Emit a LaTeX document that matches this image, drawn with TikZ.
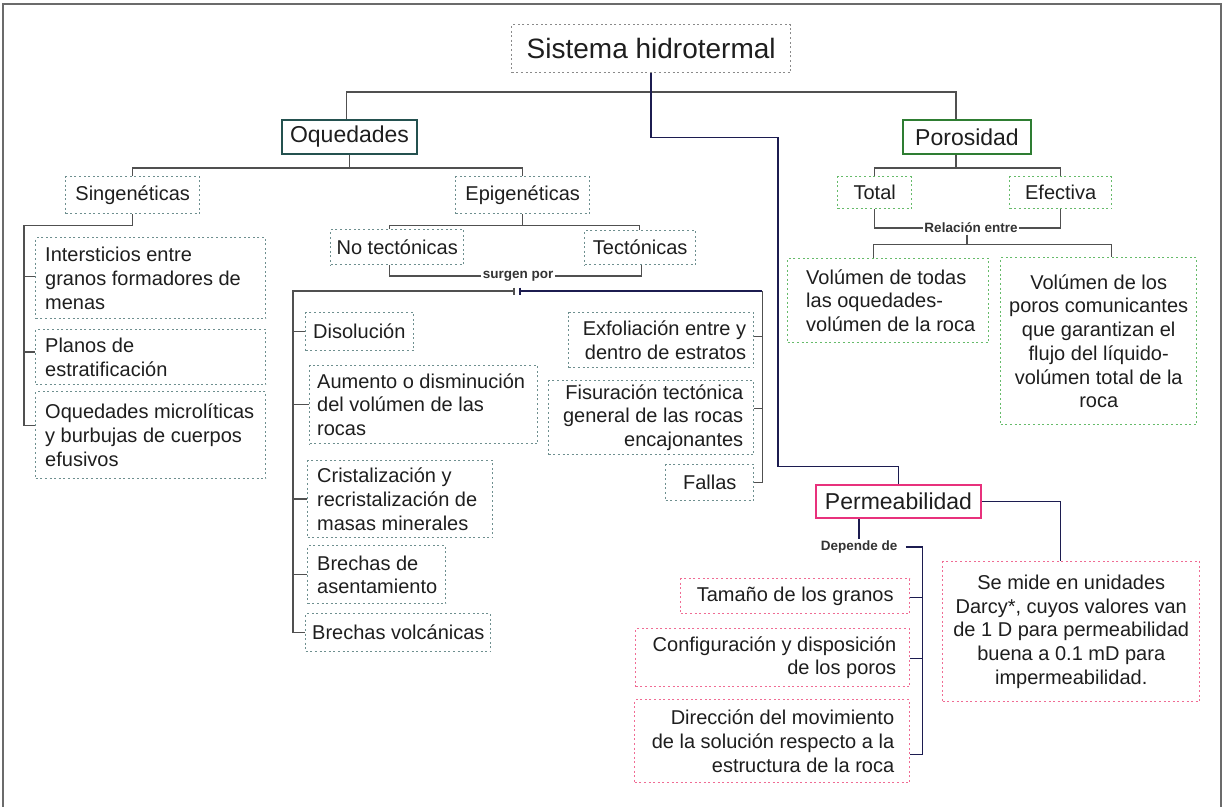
\documentclass[tikz,border=0pt]{standalone}
\usepackage{fontspec}
\setmainfont{Liberation Sans}
\definecolor{ctext}{HTML}{1E1E1E}
\definecolor{lgray}{HTML}{505050}
\definecolor{navy}{HTML}{1C1C50}
\definecolor{cteal}{HTML}{6E8F8F}
\definecolor{csis}{HTML}{8A8A8A}
\definecolor{coq}{HTML}{24514F}
\definecolor{cpor}{HTML}{2E7D32}
\definecolor{cgreen}{HTML}{66BB6A}
\definecolor{cperm}{HTML}{E8317C}
\definecolor{cpink}{HTML}{F06C94}
\definecolor{cframe}{HTML}{6B6B6B}
\definecolor{clbl}{HTML}{333333}
\newcommand\bx[9]{%
  \pgfmathsetmacro\bxw{#4-#2}\pgfmathsetmacro\bxh{#5-#3}%
  \node[#8,anchor=north west,inner sep=0pt,minimum width=\bxw pt,minimum height=\bxh pt] (#1) at (#2,#3) {};%
  \node[txt,#6] (#1t) at (#1.#7) {#9};}
\begin{document}
\begin{tikzpicture}[x=1pt,y=-1pt,
  conn/.style={draw=lgray,line width=1.5pt},
  nconn/.style={draw=navy,line width=1.5pt},
  dotbox/.style={draw=#1,line width=1.4pt,dash pattern=on 2pt off 2.6pt},
  tealbox/.style={dotbox=cteal},
  sisbox/.style={dotbox=csis},
  greenbox/.style={dotbox=cgreen},
  pinkbox/.style={dotbox=cpink},
  solidbox/.style={draw=#1,line width=2pt},
  txt/.style={inner sep=0pt,text=ctext,font=\fontsize{20}{23.7}\selectfont},
  big/.style={font=\fontsize{23}{26}\selectfont},
  tl/.style={anchor=west,align=left,xshift=#1},
  tr/.style={anchor=east,align=right,xshift=-#1},
  tc/.style={align=center},
  lbl/.style={inner sep=1.5pt,text=clbl,fill=white,font=\bfseries\fontsize{13.5}{15}\selectfont},
]
\useasboundingbox (0,0) rectangle (1225,806);
\clip (0,0) rectangle (1225,806);
\draw[cframe,line width=2pt] (3,4) rectangle (1221,815);

% ---- boxes ----
\bx{sis}{511}{24}{790}{72}{tc,font=\fontsize{28}{32}\selectfont}{center}{sisbox}{Sistema hidrotermal}
\bx{oq}{281}{119}{416}{153}{tc,big}{center}{solidbox=coq}{Oquedades}
\bx{por}{902}{119}{1030}{153}{tc,big}{center}{solidbox=cpor}{Porosidad}
\bx{sin}{65}{176}{199}{213}{tc}{center}{tealbox}{Singenéticas}
\bx{epi}{455}{176}{589}{213}{tc}{center}{tealbox}{Epigenéticas}
\bx{inter}{35}{237}{265}{318}{tl=10pt}{west}{tealbox}{Intersticios entre\\granos formadores de\\menas}
\bx{planos}{35}{329}{265}{384}{tl=10pt}{west}{tealbox}{Planos de\\estratificación}
\bx{oqmic}{35}{391}{265}{478}{tl=10pt}{west}{tealbox}{Oquedades microlíticas\\y burbujas de cuerpos\\efusivos}
\bx{notec}{330}{229}{463}{264}{tc}{center}{tealbox}{No tectónicas}
\bx{tec}{584}{230}{695}{264}{tc}{center}{tealbox}{Tectónicas}
\bx{disol}{305}{312}{413}{350}{tl=8pt}{west}{tealbox}{Disolución}
\bx{aum}{309}{365}{537}{443}{tl=8pt}{west}{tealbox}{Aumento o disminución\\del volúmen de las\\rocas}
\bx{crist}{307}{460}{492}{537}{tl=10pt}{west}{tealbox}{Cristalización y\\recristalización de\\masas minerales}
\bx{brase}{307}{545}{445}{603}{tl=10pt}{west}{tealbox}{Brechas de\\asentamiento}
\bx{brvol}{305}{613}{490}{651}{tl=7pt}{west}{tealbox}{Brechas volcánicas}
\bx{exf}{568}{312}{753}{367}{tr=8pt}{east}{tealbox}{Exfoliación entre y\\dentro de estratos}
\bx{fis}{548}{380}{753}{454}{tr=11pt}{east}{tealbox}{Fisuración tectónica\\general de las rocas\\encajonantes}
\bx{fall}{665}{464}{753}{500}{tc}{center}{tealbox}{Fallas}
\bx{total}{837}{176}{911}{208}{tc}{center}{greenbox}{Total}
\bx{efec}{1009}{176}{1111}{208}{tc}{center}{greenbox}{Efectiva}
\bx{vtod}{787}{258}{988}{342}{tl=19pt}{west}{greenbox}{Volúmen de todas\\las oquedades-\\volúmen de la roca}
\bx{vpor}{1000}{257}{1196}{424}{tc}{center}{greenbox}{Volúmen de los\\poros comunicantes\\que garantizan el\\flujo del líquido-\\volúmen total de la\\roca}
\bx{perm}{815}{484}{980}{517}{tc,big}{center}{solidbox=cperm}{Permeabilidad}
\bx{tam}{680}{578}{909}{613}{tc}{center}{pinkbox}{Tamaño de los granos}
\bx{conf}{635}{628}{909}{686}{tr=14pt}{east}{pinkbox}{Configuración y disposición\\de los poros}
\bx{dir}{634}{699}{909}{782}{tr=16pt}{east}{pinkbox}{Dirección del movimiento\\de la solución respecto a la\\estructura de la roca}
\bx{semide}{942}{561}{1199}{701}{tc}{center}{pinkbox}{Se mide en unidades\\Darcy*, cuyos valores van\\de 1 D para permeabilidad\\buena a 0.1 mD para\\impermeabilidad.}

% ---- labels ----
\node[lbl] (surg) at (518,276) {surgen por};
\node[lbl] (rel) at (971,228) {Relación entre};
\node[lbl] (dep) at (859,547) {Depende de};

% ---- top level ----
\draw[conn] ([xshift=-3pt]oq.north) -- ++(0,-27) -| ([xshift=-11pt]por.north);
\draw[nconn] (sis.south) -- ++(0,64) -- ++(127,0) -- ++(0,329) -| (perm.north);

% ---- Oquedades ----
\draw[conn] (oq.south) -- ++(0,13) coordinate (oqj);
\draw[conn] (sin.north) |- (oqj) -| (epi.north);
\draw[conn] (sin.south) -- ++(0,11) -| ([xshift=-11pt,yshift=9.5pt]oqmic.west) -- ([yshift=9.5pt]oqmic.west);
\draw[conn] ([yshift=1.5pt]inter.west) -- ++(-11,0);
\draw[conn] ([yshift=5pt]planos.west) -- ++(-11,0);

\draw[conn] (epi.south) -- ++(0,11) coordinate (epj);
\draw[conn] ([xshift=-7.5pt]notec.north) |- (epj) -| ([xshift=-0.5pt]tec.north);
\draw[conn] ([xshift=-7.5pt]notec.south) |- (surg.west);
\draw[conn] (surg.east) -| ([xshift=1.5pt]tec.south);

\coordinate (sj) at ([yshift=-15pt]surg.center);
\draw[conn] ([xshift=-4pt]sj) -- ([xshift=-12pt]disol.west |- sj) -- ([xshift=-12pt]brvol.west) -- (brvol.west);
\draw[conn] ([xshift=-4pt,yshift=3.5pt]sj) -- ([xshift=-4pt,yshift=-3.5pt]sj);
\draw[conn] (disol.west) -- ++(-12,0);
\draw[conn] (aum.west) -- ++(-16,0);
\draw[conn] (crist.west) -- ++(-14,0);
\draw[conn] (brase.west) -- ++(-14,0);
\draw[nconn] ([xshift=2pt]sj) -- ([xshift=8pt]fall.east |- sj);
\draw[nconn] ([xshift=2pt,yshift=3.5pt]sj) -- ([xshift=2pt,yshift=-3.5pt]sj);
\draw[conn] ([xshift=8pt]fall.east |- sj) -- ([xshift=8pt]fall.east) -- (fall.east);
\draw[conn] ([yshift=3.5pt]exf.east) -- ++(8,0);
\draw[conn] ([yshift=9pt]fis.east) -- ++(8,0);

% ---- Porosidad ----
\draw[conn] ([xshift=-11pt]por.south) -- ++(0,13) coordinate (porj);
\draw[conn] (total.north) |- (porj) -| (efec.north);
\draw[conn] (total.south) |- (rel.west);
\draw[conn] (rel.east) -| (efec.south);
\draw[conn] ([xshift=-4pt]rel.south) -- ++(0,10) coordinate (relj);
\draw[conn] ([xshift=-14.5pt]vtod.north) |- (relj) -| ([xshift=13pt]vpor.north);

% ---- Permeabilidad ----
\draw[nconn] (perm.east) -| ([xshift=-10.5pt]semide.north);
\draw[nconn] (dep.north) -- (dep.north |- perm.south);
\draw[nconn] ([xshift=7pt]dep.east) -- ([xshift=12pt]tam.east |- dep.east) -- ([xshift=12pt,yshift=-13.5pt]dir.east) -- ([yshift=-13.5pt]dir.east);
\draw[nconn] ([yshift=-1.5pt]tam.east) -- ++(12,0);
\draw[nconn] ([yshift=-1pt]conf.east) -- ++(12,0);
\end{tikzpicture}
\end{document}
